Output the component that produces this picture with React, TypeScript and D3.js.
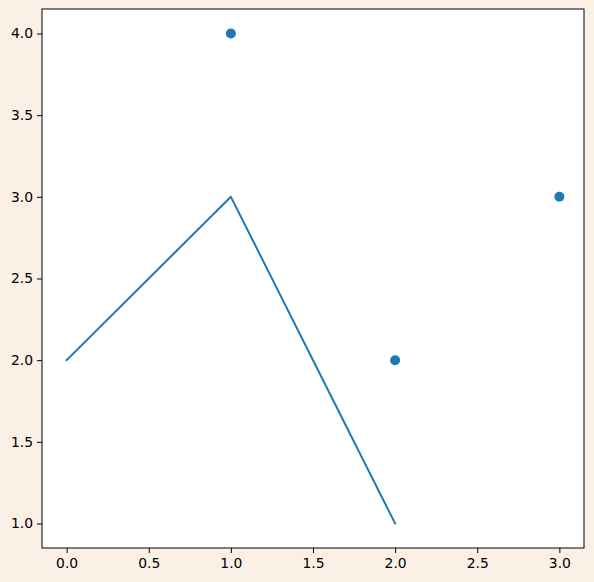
import * as d3 from 'd3';
import React, {useRef, useEffect} from 'react';

const lineX = [0, 1, 2];
const lineY = [2, 3, 1];
const pointX = [1, 2, 3];
const pointY = [4, 2, 3];
const xTicks = [0, 0.5, 1, 1.5, 2, 2.5, 3];
const yTicks = [1, 1.5, 2, 2.5, 3, 3.5, 4];

const W = 594;
const H = 582;
const margin = {left: 42, top: 9, right: 10, bottom: 34};

export default function App() {
  const ref = useRef<SVGSVGElement>(null);

  useEffect(() => {
    const svg = d3.select(ref.current);
    svg.selectAll("*").remove();

    const x = d3.scaleLinear().domain([-0.15, 3.15]).range([margin.left, W - margin.right]);
    const y = d3.scaleLinear().domain([0.85, 4.15]).range([H - margin.bottom, margin.top]);

    svg.append("rect").attr("width", W).attr("height", H).attr("fill", "#faf0e6");
    svg.append("rect")
      .attr("x", margin.left).attr("y", margin.top)
      .attr("width", W - margin.left - margin.right)
      .attr("height", H - margin.top - margin.bottom)
      .attr("fill", "white");

    const line = d3.line<number>()
      .x((_, i) => x(lineX[i]))
      .y(d => y(d));

    svg.append("path")
      .datum(lineY)
      .attr("d", line)
      .attr("fill", "none")
      .attr("stroke", "#1f77b4")
      .attr("stroke-width", 2)
      .attr("stroke-linejoin", "round")
      .attr("stroke-linecap", "square");

    svg.selectAll("circle.pt")
      .data(pointY)
      .enter()
      .append("circle")
      .attr("class", "pt")
      .attr("cx", (_, i) => x(pointX[i]))
      .attr("cy", d => y(d))
      .attr("r", 5)
      .attr("fill", "#1f77b4");

    // frame
    svg.append("rect")
      .attr("x", margin.left).attr("y", margin.top)
      .attr("width", W - margin.left - margin.right)
      .attr("height", H - margin.top - margin.bottom)
      .attr("fill", "none")
      .attr("stroke", "black")
      .attr("stroke-width", 1);

    const xAxis = d3.axisBottom(x).tickValues(xTicks).tickFormat(d3.format(".1f")).tickSize(5).tickPadding(5);
    const yAxis = d3.axisLeft(y).tickValues(yTicks).tickFormat(d3.format(".1f")).tickSize(5).tickPadding(4);

    const gx = svg.append("g")
      .attr("transform", `translate(0,${H - margin.bottom})`)
      .call(xAxis);
    const gy = svg.append("g")
      .attr("transform", `translate(${margin.left},0)`)
      .call(yAxis);

    [gx, gy].forEach(g => {
      g.select(".domain").remove();
      g.selectAll("text")
        .attr("font-family", "DejaVu Sans")
        .attr("font-size", 13.9)
        .attr("fill", "black");
      g.selectAll("line").attr("stroke", "black");
    });
  }, []);

  return (
    <svg ref={ref} width={W} height={H} style={{position: "absolute", left: 0, top: 0}} />
  );
}
